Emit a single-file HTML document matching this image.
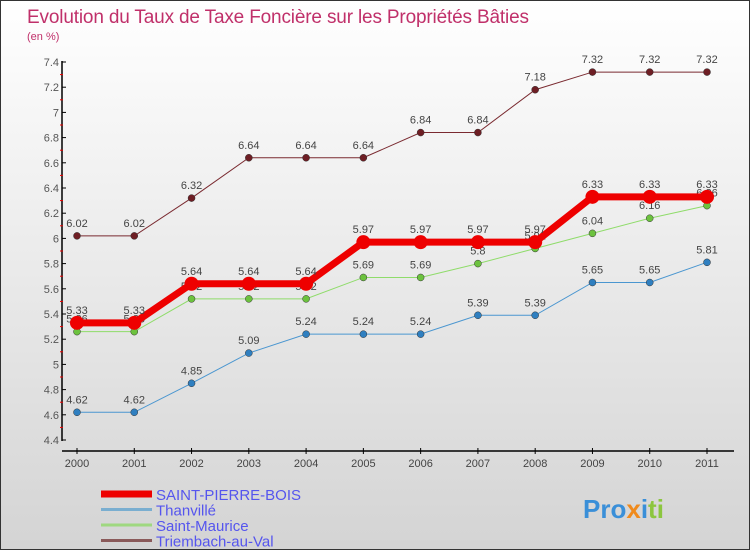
<!DOCTYPE html>
<html><head><meta charset="utf-8"><style>
body{margin:0}
#c{width:750px;height:550px;position:relative;overflow:hidden;box-sizing:border-box;border:1px solid #333;background:linear-gradient(#fff,#d4d4d4);font-family:"Liberation Sans","DejaVu Sans",sans-serif}
</style></head><body>
<div id="c">
<svg id="s" width="750" height="550" style="position:absolute;left:0;top:0">
<text x="26" y="22" font-size="19" fill="#c0306a" textLength="502">Evolution du Taux de Taxe Foncière sur les Propriétés Bâties</text>
<text x="26" y="39" font-size="11" fill="#c0306a">(en %)</text>
<g id="g"></g>
<text x="582" y="517" font-size="26" font-weight="bold"><tspan fill="#3a8fd8">Pro</tspan><tspan fill="#f08a1c">x</tspan><tspan fill="#3a8fd8">i</tspan><tspan fill="#8cc63f">ti</tspan></text>
</svg>
</div>
<script>
const years=["2000","2001","2002","2003","2004","2005","2006","2007","2008","2009","2010","2011"];
const yTicks=[4.4,4.6,4.8,5,5.2,5.4,5.6,5.8,6,6.2,6.4,6.6,6.8,7,7.2,7.4];
const seriesNames=["SAINT-PIERRE-BOIS","Thanvillé","Saint-Maurice","Triembach-au-Val"];
const spb=[5.33,5.33,5.64,5.64,5.64,5.97,5.97,5.97,5.97,6.33,6.33,6.33];
const thanville=[4.62,4.62,4.85,5.09,5.24,5.24,5.24,5.39,5.39,5.65,5.65,5.81];
const stMaurice=[5.26,5.26,5.52,5.52,5.52,5.69,5.69,5.8,5.92,6.04,6.16,6.26];
const triembach=[6.02,6.02,6.32,6.64,6.64,6.64,6.84,6.84,7.18,7.32,7.32,7.32];
const NS="http://www.w3.org/2000/svg",g=document.getElementById('g');
const xS=i=>76+i*(630/11);
const yS=v=>61+(7.4-v)*126;
function mk(t,a,p){const e=document.createElementNS(NS,t);for(const k in a)e.setAttribute(k,a[k]);(p||g).appendChild(e);return e;}
function fmt(v){return String(v);}
let ya=mk('line',{x1:61,y1:60,x2:61,y2:440,stroke:'#000','stroke-width':1.5});


yTicks.forEach((t,i)=>{
 const y=yS(t);
 mk('line',{x1:61,y1:y,x2:65,y2:y,stroke:'#000'});
 const tx=mk('text',{x:58,y:y+4,'font-size':11,fill:'#555','text-anchor':'end'});tx.textContent=fmt(t);
 
 
 if(i<yTicks.length-1){const ym=yS(t+0.1);mk('line',{x1:59,y1:ym,x2:62,y2:ym,stroke:'#e00'});}
});
let xa=mk('line',{x1:61,y1:450,x2:733,y2:450,stroke:'#000','stroke-width':1.5});


years.forEach((yr,i)=>{
 const x=xS(i);
 mk('line',{x1:x,y1:447,x2:x,y2:453,stroke:'#000'});
 const tx=mk('text',{x:x,y:466,'font-size':11,fill:'#444','text-anchor':'middle'});tx.textContent=yr;
 
 
});
const defs=[[triembach,'#7a2a30','#6e1e24',1,3.5,'series-triembach'],[thanville,'#4a96d0','#2f7fc0',1,3.5,'series-thanville'],[stMaurice,'#8fdc6a','#6cc23e',1,3.5,'series-saint-maurice'],[spb,'#ee0000','#ee0000',7,7,'series-saint-pierre-bois']];
defs.forEach(([d,lc,pc,w,r,nm])=>{
 const sg=mk('g',{});
 
 
 mk('polyline',{points:d.map((v,i)=>xS(i)+','+yS(v)).join(' '),fill:'none',stroke:lc,'stroke-width':w},sg);
 d.forEach((v,i)=>{
  const c=mk('circle',{cx:xS(i),cy:yS(v),r:r,fill:pc,stroke:w>1?'none':'#333','stroke-width':0.5},sg);
  
  
  const t=mk('text',{x:xS(i),y:yS(v)-9,'font-size':11,fill:'#444','text-anchor':'middle'},sg);t.textContent=fmt(v);
  
  
 });
});
const lc=['#ee0000','#7aaed0','#9fd880','#8a5a5a'],lw=[7,3,3,3];
seriesNames.forEach((n,i)=>{
 const y=493+i*15.5;
 const l=mk('line',{x1:100,y1:y,x2:151,y2:y,stroke:lc[i],'stroke-width':lw[i]});
 
 
 const t=mk('text',{x:155,y:y+6,'font-size':15,fill:'#5555ee'});t.textContent=n;
 
 
});
</script>
</body></html>
